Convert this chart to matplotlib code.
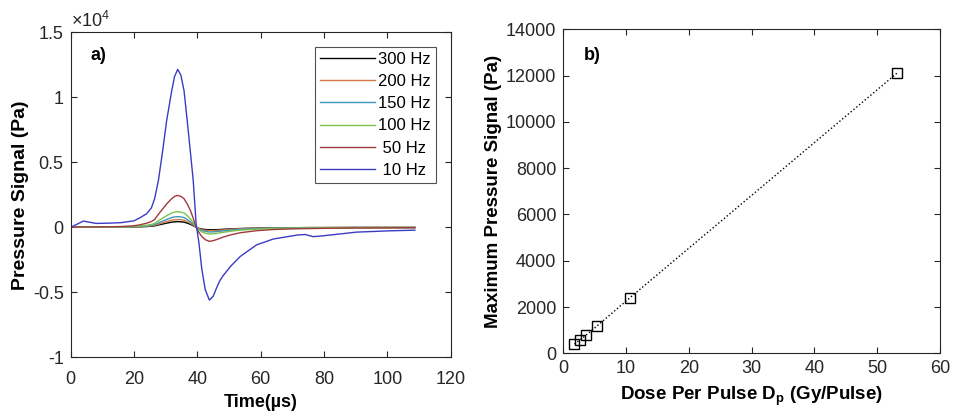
import matplotlib
matplotlib.use("Agg")
import matplotlib.pyplot as plt

plt.rcParams['font.family'] = ['Liberation Sans', 'DejaVu Sans']
plt.rcParams['mathtext.fontset'] = 'custom'
plt.rcParams['mathtext.rm'] = 'Liberation Sans'
plt.rcParams['mathtext.bf'] = 'Liberation Sans:bold'

# ---------------- data ----------------
time_us = [0, 4, 8, 12, 16, 20, 22, 24, 25.5, 26.5, 27.7, 29, 30.3, 31.9, 32.8, 33.8, 34.8, 35.8, 36.8, 37.8,
           38.7, 39.6, 40.5, 41.4, 42.5, 43.8, 45, 46, 47.1, 48.2, 50.5, 53.5, 58.7, 64, 71.4, 74, 76.6, 79.8,
           90.3, 100.8, 108.7]

p_300hz = [0, 0.001, 0.001, 0.001, 0.001, 0.002, 0.004, 0.006, 0.008, 0.011, 0.018, 0.025, 0.032, 0.040, 0.042,
           0.044, 0.042, 0.040, 0.032, 0.023, 0.012, 0.0, -0.008, -0.013, -0.017, -0.019, -0.019, -0.018, -0.017,
           -0.015, -0.012, -0.009, -0.006, -0.004, -0.003, -0.002, -0.002, -0.002, -0.001, -0.001, -0.001]
p_200hz = [0, 0.001, 0.001, 0.001, 0.002, 0.003, 0.005, 0.008, 0.011, 0.015, 0.024, 0.034, 0.044, 0.055, 0.058,
           0.060, 0.058, 0.055, 0.044, 0.032, 0.017, 0.0, -0.010, -0.018, -0.023, -0.026, -0.026, -0.024, -0.022,
           -0.020, -0.015, -0.011, -0.007, -0.005, -0.003, -0.003, -0.002, -0.002, -0.001, -0.001, -0.001]
p_150hz = [0, 0.001, 0.001, 0.002, 0.002, 0.004, 0.007, 0.011, 0.015, 0.020, 0.033, 0.047, 0.060, 0.075, 0.080,
           0.082, 0.080, 0.075, 0.060, 0.043, 0.023, 0.0, -0.014, -0.024, -0.031, -0.036, -0.035, -0.033, -0.030,
           -0.027, -0.021, -0.015, -0.010, -0.006, -0.004, -0.004, -0.003, -0.003, -0.002, -0.002, -0.001]
p_100hz = [0, 0.002, 0.002, 0.002, 0.003, 0.006, 0.010, 0.016, 0.022, 0.030, 0.050, 0.070, 0.090, 0.110, 0.117,
           0.120, 0.117, 0.110, 0.090, 0.065, 0.035, 0.0, -0.020, -0.035, -0.045, -0.052, -0.050, -0.047, -0.043,
           -0.038, -0.030, -0.022, -0.014, -0.009, -0.006, -0.005, -0.005, -0.004, -0.003, -0.002, -0.002]
p_50hz = [0, 0.003, 0.003, 0.004, 0.006, 0.012, 0.020, 0.032, 0.045, 0.060, 0.100, 0.140, 0.180, 0.220, 0.238,
          0.245, 0.238, 0.220, 0.180, 0.130, 0.070, 0.0, -0.040, -0.070, -0.095, -0.108, -0.103, -0.095, -0.085,
          -0.075, -0.058, -0.042, -0.026, -0.017, -0.011, -0.010, -0.009, -0.008, -0.005, -0.004, -0.003]
p_10hz = [0, 0.048, 0.030, 0.032, 0.036, 0.050, 0.075, 0.105, 0.150, 0.220, 0.360, 0.580, 0.820, 1.050, 1.160,
          1.215, 1.170, 1.050, 0.820, 0.580, 0.360, 0.030, -0.120, -0.320, -0.480, -0.560, -0.530, -0.470, -0.410,
          -0.370, -0.300, -0.225, -0.135, -0.090, -0.060, -0.055, -0.072, -0.065, -0.037, -0.027, -0.022]

series_labels = ['300 Hz', '200 Hz', '150 Hz', '100 Hz', ' 50 Hz', ' 10 Hz']
series_values = [p_300hz, p_200hz, p_150hz, p_100hz, p_50hz, p_10hz]
series_colors = ['#000000', '#d57a45', '#3d94b8', '#7cc24a', '#a03a3e', '#3b3bc4']

dose_per_pulse = [1.77, 2.66, 3.55, 5.32, 10.6, 53.2]
max_pressure = [400, 585, 770, 1170, 2400, 12120]

# ---------------- figure ----------------
fig = plt.figure(figsize=(9.54, 4.19), dpi=100)
axc = '#262626'

ax1 = fig.add_axes([0.0741, 0.1472, 0.3983, 0.7757])
for lab, vals, col in zip(series_labels, series_values, series_colors):
    ax1.plot(time_us, vals, color=col, lw=1.0, label=lab)
ax1.set_xlim(0, 120)
ax1.set_ylim(-1, 1.5)
ax1.set_xticks(range(0, 121, 20))
ax1.set_yticks([-1, -0.5, 0, 0.5, 1, 1.5])
ax1.set_yticklabels(['-1', '-0.5', '0', '0.5', '1', '1.5'])
ax1.text(0.0, 1.003, r'$\times10^{4}$', transform=ax1.transAxes, fontsize=13, color=axc, ha='left', va='bottom')
ax1.set_xlabel('Time(µs)', fontsize=13, fontweight='bold', labelpad=4.5)
ax1.set_ylabel('Pressure Signal (Pa)', fontsize=14, fontweight='bold', labelpad=3)
ax1.text(0.053, 0.929, 'a)', transform=ax1.transAxes, fontsize=13, fontweight='bold', va='center')
leg = ax1.legend(loc='upper right', bbox_to_anchor=(0.961, 0.955), borderaxespad=0, fontsize=12,
                 handlelength=3.3, handletextpad=0.2, labelspacing=0.43, frameon=True, fancybox=False,
                 borderpad=0.3)
leg.get_frame().set_edgecolor(axc)
leg.get_frame().set_linewidth(0.8)

ax2 = fig.add_axes([0.5905, 0.1568, 0.3949, 0.7733])
ax2.plot(dose_per_pulse, max_pressure, linestyle=':', color='k', lw=1.0,
         marker='s', markersize=7.5, markerfacecolor='none', markeredgecolor='k', markeredgewidth=1.0)
ax2.set_xlim(0, 60)
ax2.set_ylim(0, 14000)
ax2.set_xticks(range(0, 61, 10))
ax2.set_yticks(range(0, 14001, 2000))
ax2.set_xlabel(r'Dose Per Pulse D$_\mathbf{p}$ (Gy/Pulse)', fontsize=13.5, fontweight='bold', labelpad=5)
ax2.set_ylabel('Maximum Pressure Signal (Pa)', fontsize=13.5, fontweight='bold', labelpad=3)
ax2.text(0.055, 0.918, 'b)', transform=ax2.transAxes, fontsize=13, fontweight='bold', va='center')

for ax in (ax1, ax2):
    ax.tick_params(direction='in', length=4, width=0.8, top=True, right=True, labelsize=13,
                   colors=axc, pad=5)
    for s in ax.spines.values():
        s.set_color(axc)
        s.set_linewidth(0.8)
ax1.tick_params(axis='x', pad=10)

fig.savefig('out.png', dpi=100)
